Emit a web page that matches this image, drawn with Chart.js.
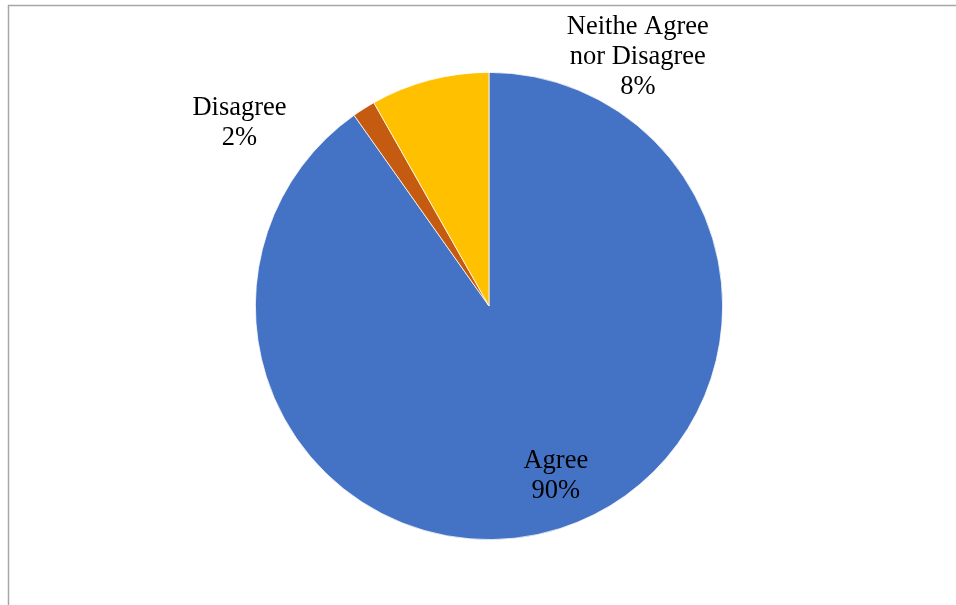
<!DOCTYPE html>
<html>
<head>
<meta charset="utf-8">
<script src="https://cdn.jsdelivr.net/npm/chart.js@4/dist/chart.umd.min.js"></script>
<style>
  html, body { margin: 0; padding: 0; background: #fff; }
  #wrap { width: 956px; height: 605px; position: relative; }
</style>
</head>
<body>
<div id="wrap"><canvas id="myChart" width="956" height="605"></canvas></div>
<script>
// dati del grafico
const labels = ["Agree", "Disagree", "Neithe Agree\nnor Disagree"];
const values = [90.2, 1.6, 8.2];
const colors = ["#4472C4", "#C55A11", "#FFC000"];

// posizione etichette rispetto al centro, in unità di raggio
const labelOffsets = [[0.286, 0.726], [-1.068, -0.785], [0.637, -1.064]];

// cornice grigia in alto e a sinistra
const frame = {
  id: "frame",
  beforeDraw(chart) {
    const ctx = chart.ctx;
    ctx.save();
    ctx.strokeStyle = "#a6a6a6";
    ctx.lineWidth = 1.5;
    ctx.beginPath();
    ctx.moveTo(8.5, 605);
    ctx.lineTo(8.5, 5.5);
    ctx.lineTo(956, 5.5);
    ctx.stroke();
    ctx.restore();
  }
};

// etichette con nome e percentuale
const dataLabels = {
  id: "dataLabels",
  afterDatasetsDraw(chart) {
    const ctx = chart.ctx;
    const meta = chart.getDatasetMeta(0);
    const total = values.reduce((a, b) => a + b, 0);
    ctx.save();
    ctx.font = "26.5px 'Liberation Serif', 'Times New Roman', serif";
    ctx.fillStyle = "#000";
    ctx.textAlign = "center";
    ctx.textBaseline = "middle";
    meta.data.forEach((arc, i) => {
      const r = arc.outerRadius;
      const x = arc.x + labelOffsets[i][0] * r;
      const y = arc.y + labelOffsets[i][1] * r;
      const lines = labels[i].split("\n");
      lines.push(Math.round(values[i] / total * 100) + "%");
      const lh = 30;
      const y0 = y - (lines.length - 1) * lh / 2;
      lines.forEach((t, j) => ctx.fillText(t, x, y0 + j * lh));
    });
    ctx.restore();
  }
};

const ctx = document.getElementById("myChart");
new Chart(ctx, {
  type: "pie",
  data: {
    labels: labels,
    datasets: [{
      data: values,
      backgroundColor: colors,
      borderColor: "#ffffff",
      borderWidth: 0.75
    }]
  },
  options: {
    responsive: false,
    animation: false,
    layout: { padding: { top: 72, bottom: 65, left: 100, right: 78 } },
    plugins: {
      legend: { display: false },
      tooltip: { enabled: false }
    }
  },
  plugins: [frame, dataLabels]
});
</script>
</body>
</html>
